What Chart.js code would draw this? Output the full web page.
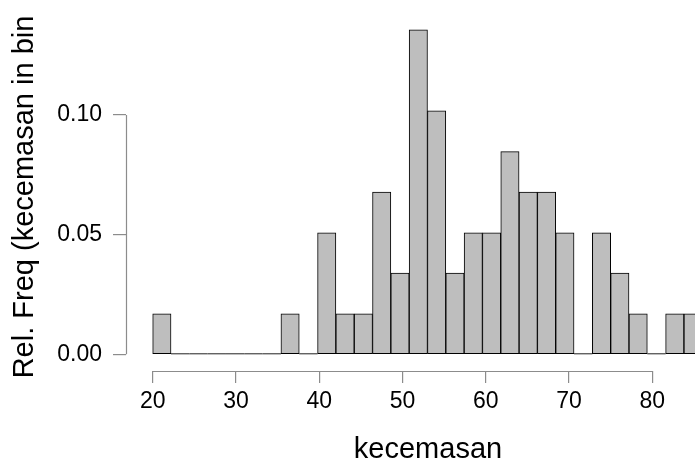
<!DOCTYPE html>
<html>
<head>
<meta charset="utf-8">
<script src="https://cdn.jsdelivr.net/npm/chart.js"></script>
<style>
  html, body { margin: 0; padding: 0; background: #fff; overflow: hidden; }
  #wrap { width: 740px; height: 459px; }
</style>
</head>
<body>
<div id="wrap"><canvas id="hist" width="740" height="459"></canvas></div>
<script>
// bin edges (30 bins of kecemasan) and relative frequency per bin
const binEdges = [20, 22.2, 24.4, 26.6, 28.8, 31, 33.2, 35.4, 37.6, 39.8, 42, 44.2, 46.4, 48.6, 50.8,
  53, 55.2, 57.4, 59.6, 61.8, 64, 66.2, 68.4, 70.6, 72.8, 75, 77.2, 79.4, 81.6, 83.8, 86];
const relFreq = [0.0169, 0, 0, 0, 0, 0, 0, 0.0169, 0, 0.0508, 0.0169, 0.0169, 0.0678, 0.0339, 0.1356,
  0.1017, 0.0339, 0.0508, 0.0508, 0.0847, 0.0678, 0.0678, 0.0508, 0, 0.0508, 0.0339, 0.0169, 0, 0.0169, 0.0169];
const xTicks = [20, 30, 40, 50, 60, 70, 80];
const yTicks = [0, 0.05, 0.10];
const xTitle = 'kecemasan';
const yTitle = 'Rel. Freq (kecemasan in bin';

const FONT = '"Liberation Sans", Arial, sans-serif';
const axisColor = '#8c8c8c';

const points = relFreq.map((v, i) => ({ x: (binEdges[i] + binEdges[i + 1]) / 2, y: v }));

// drop the label half-height padding chart.js adds, so the plot area is where we set it
const noPad = s => { s.paddingTop = 0; s.paddingBottom = 0; s.paddingLeft = 0; s.paddingRight = 0; };

// R-style detached axes, flat line for empty bins, axis titles
const rAxes = {
  id: 'rAxes',
  afterDatasetsDraw(chart) {
    const ctx = chart.ctx;
    const xs = chart.scales.x, ys = chart.scales.y;
    const area = chart.chartArea;
    ctx.save();
    // empty bins are drawn as a flat line, like R's hist()
    ctx.strokeStyle = '#222';
    ctx.lineWidth = 1;
    const y0 = ys.getPixelForValue(0) - 0.5;
    ctx.beginPath();
    relFreq.forEach((v, i) => {
      if (v !== 0) return;
      ctx.moveTo(xs.getPixelForValue(binEdges[i]), y0);
      ctx.lineTo(xs.getPixelForValue(binEdges[i + 1]), y0);
    });
    ctx.stroke();
    // axis lines
    ctx.strokeStyle = axisColor;
    ctx.lineWidth = 1.2;
    const xa = Math.round(area.bottom) + 0.5;
    ctx.beginPath();
    ctx.moveTo(xs.getPixelForValue(xTicks[0]), xa);
    ctx.lineTo(xs.getPixelForValue(xTicks[xTicks.length - 1]), xa);
    const ya = Math.round(area.left) + 0.5;
    ctx.moveTo(ya, ys.getPixelForValue(yTicks[0]));
    ctx.lineTo(ya, ys.getPixelForValue(yTicks[yTicks.length - 1]));
    ctx.stroke();
    // titles
    ctx.fillStyle = '#000';
    ctx.font = '29px ' + FONT;
    ctx.textAlign = 'center';
    ctx.textBaseline = 'alphabetic';
    ctx.fillText(xTitle, 428, 458);
    ctx.translate(33, 197);
    ctx.rotate(-Math.PI / 2);
    ctx.fillText(yTitle, 0, 0);
    ctx.restore();
  }
};

new Chart(document.getElementById('hist'), {
  type: 'bar',
  data: {
    datasets: [{
      data: points,
      backgroundColor: '#bebebe',
      borderColor: '#000',
      borderWidth: 1,
      borderSkipped: false,
      barPercentage: 1,
      categoryPercentage: 1
    }]
  },
  options: {
    responsive: false,
    animation: false,
    devicePixelRatio: 1,
    layout: { padding: { top: 9.7, right: 10, left: 0, bottom: 0 } },
    plugins: { legend: { display: false }, tooltip: { enabled: false } },
    scales: {
      x: {
        type: 'linear',
        offset: false,
        min: 16.794,
        max: 89.33,
        afterBuildTicks: s => { s.ticks = xTicks.map(v => ({ value: v })); },
        afterFit: s => { s.height = 87.95; noPad(s); },
        border: { display: false },
        grid: { offset: false, drawOnChartArea: false, drawTicks: true, tickLength: 12, color: axisColor, lineWidth: 1.2 },
        ticks: { color: '#000', font: { family: FONT, size: 23 }, padding: 5, maxRotation: 0, autoSkip: false }
      },
      y: {
        min: -0.007,
        max: 0.144,
        afterBuildTicks: s => { s.ticks = yTicks.map(v => ({ value: v })); },
        afterFit: s => { s.width = 126; noPad(s); },
        border: { display: false },
        grid: { drawOnChartArea: false, drawTicks: true, tickLength: 13, color: axisColor, lineWidth: 1.2 },
        ticks: { color: '#000', font: { family: FONT, size: 23 }, padding: 11, callback: v => v.toFixed(2) }
      }
    }
  },
  plugins: [rAxes]
});
</script>
</body>
</html>
